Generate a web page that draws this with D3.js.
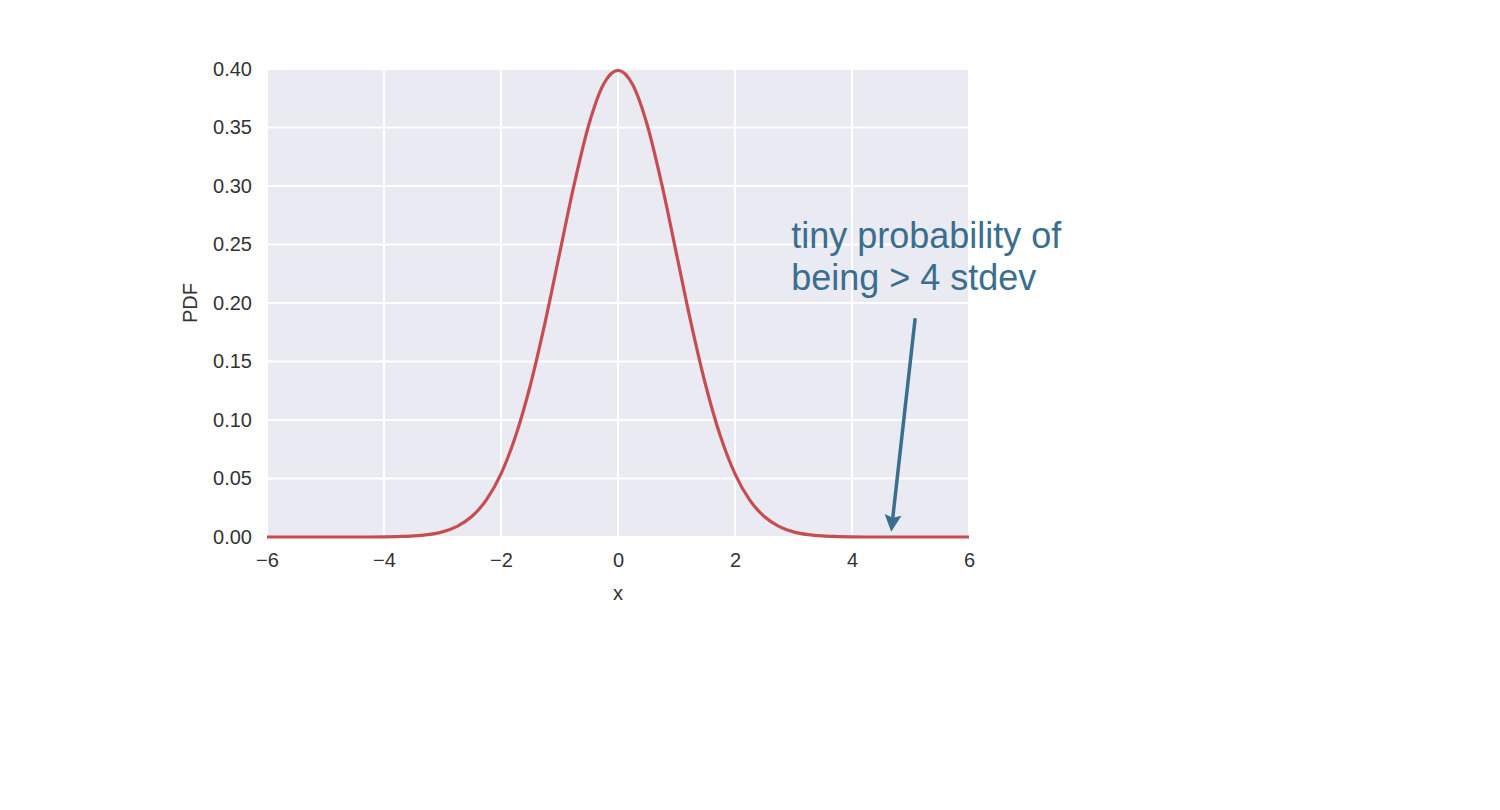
<!DOCTYPE html>
<html>
<head>
<meta charset="utf-8">
<script src="https://cdn.jsdelivr.net/npm/d3@7"></script>
<style>
  html, body { margin: 0; padding: 0; background: #fff; }
  svg { display: block; }
</style>
</head>
<body>
<svg id="chart" width="1500" height="810"></svg>
<script>
// Values (standard normal PDF curve)
const xValues = [-6, -5.75, -5.5, -5.25, -5, -4.75, -4.5, -4.25, -4, -3.75, -3.5, -3.25, -3, -2.75, -2.5, -2.25, -2, -1.75, -1.5, -1.25, -1, -0.75, -0.5, -0.25, 0,
                 0.25, 0.5, 0.75, 1, 1.25, 1.5, 1.75, 2, 2.25, 2.5, 2.75, 3, 3.25, 3.5, 3.75, 4, 4.25, 4.5, 4.75, 5, 5.25, 5.5, 5.75, 6];
const pdfValues = [0, 0, 0, 0, 0, 0, 0, 0, 0.0001, 0.0004, 0.0009, 0.0020, 0.0044, 0.0091, 0.0175, 0.0317, 0.0540, 0.0863, 0.1295, 0.1826, 0.2420, 0.3011, 0.3521, 0.3867, 0.3989,
                   0.3867, 0.3521, 0.3011, 0.2420, 0.1826, 0.1295, 0.0863, 0.0540, 0.0317, 0.0175, 0.0091, 0.0044, 0.0020, 0.0009, 0.0004, 0.0001, 0, 0, 0, 0, 0, 0, 0, 0];
const xTicks = [-6, -4, -2, 0, 2, 4, 6];
const yTicks = [0, 0.05, 0.10, 0.15, 0.20, 0.25, 0.30, 0.35, 0.40];
const annotationText = ["tiny probability of", "being > 4 stdev"];
const annotationPoint = [4.67, 0.0045];
const annotationTail = [5.08, 0.187];
const annotationTextPos = [2.96, 0.247];

const svg = d3.select("#chart");
const margin = {left: 267, top: 69, right: 969, bottom: 537};
const x = d3.scaleLinear().domain([-6, 6]).range([margin.left, margin.right]);
const y = d3.scaleLinear().domain([0, 0.40]).range([margin.bottom, margin.top]);

const font = "'Liberation Sans', Arial, Helvetica, sans-serif";
const textColor = "#333333";
const annColor = "#3a6e8f";

// background
svg.append("rect")
  .attr("x", x(-6)).attr("y", y(0.40))
  .attr("width", x(6) - x(-6)).attr("height", y(0) - y(0.40))
  .attr("fill", "#eaeaf2");

// grid
const grid = svg.append("g");
grid.selectAll("line.v").data(xTicks).join("line")
  .attr("x1", d => x(d)).attr("x2", d => x(d))
  .attr("y1", y(0)).attr("y2", y(0.40))
  .attr("stroke", "#fff").attr("stroke-width", 2);
grid.selectAll("line.h").data(yTicks).join("line")
  .attr("x1", x(-6)).attr("x2", x(6))
  .attr("y1", d => y(d)).attr("y2", d => y(d))
  .attr("stroke", "#fff").attr("stroke-width", 2);

// axes (labels only, seaborn darkgrid style)
const xAxis = d3.axisBottom(x).tickValues(xTicks).tickSize(0).tickPadding(16)
  .tickFormat(d => d < 0 ? "\u2212" + Math.abs(d) : String(d));
const gx = svg.append("g").attr("transform", `translate(0,${y(0)})`).call(xAxis);
gx.select(".domain").remove();
gx.selectAll("text").attr("font-family", font).attr("font-size", 20).attr("fill", textColor);

const yAxis = d3.axisLeft(y).tickValues(yTicks).tickSize(0).tickPadding(15)
  .tickFormat(d3.format(".2f"));
const gy = svg.append("g").attr("transform", `translate(${x(-6)},0)`).call(yAxis);
gy.select(".domain").remove();
gy.selectAll("text").attr("font-family", font).attr("font-size", 20).attr("fill", textColor);

// axis titles
svg.append("text").attr("x", x(0)).attr("y", 600)
  .attr("text-anchor", "middle").attr("font-family", font).attr("font-size", 20)
  .attr("fill", textColor).text("x");
svg.append("text").attr("transform", `translate(197,${(y(0) + y(0.4)) / 2}) rotate(-90)`)
  .attr("text-anchor", "middle").attr("font-family", font).attr("font-size", 20)
  .attr("fill", textColor).text("PDF");

// curve
const data = xValues.map((v, i) => [v, pdfValues[i]]);
const line = d3.line().x(d => x(d[0])).y(d => y(d[1])).curve(d3.curveMonotoneX);
svg.append("path").datum(data)
  .attr("d", line)
  .attr("fill", "none")
  .attr("stroke", "#c44e52")
  .attr("stroke-width", 3.2)
  .attr("stroke-linejoin", "round");

// annotation arrow: shaft + filled head
const tipX = x(annotationPoint[0]), tipY = y(annotationPoint[1]);
const tailX = x(annotationTail[0]), tailY = y(annotationTail[1]);
const ang = Math.atan2(tipY - tailY, tipX - tailX);
const headLen = 17, headHalf = 8.5, notch = 3;
const ux = Math.cos(ang), uy = Math.sin(ang);
const px = -uy, py = ux;
const baseX = tipX - ux * headLen, baseY = tipY - uy * headLen;

svg.append("line")
  .attr("x1", tailX).attr("y1", tailY)
  .attr("x2", baseX + ux * notch).attr("y2", baseY + uy * notch)
  .attr("stroke", annColor).attr("stroke-width", 3.5);

svg.append("path")
  .attr("d", `M${tipX},${tipY} L${baseX + px * headHalf},${baseY + py * headHalf} L${baseX + ux * notch},${baseY + uy * notch} L${baseX - px * headHalf},${baseY - py * headHalf} Z`)
  .attr("fill", annColor);

const t = svg.append("text").attr("font-family", font).attr("font-size", 36)
  .attr("fill", annColor);
annotationText.forEach((s, i) => {
  t.append("tspan").attr("x", x(annotationTextPos[0]))
    .attr("y", y(annotationTextPos[1]) + i * 42).text(s);
});
</script>
</body>
</html>
